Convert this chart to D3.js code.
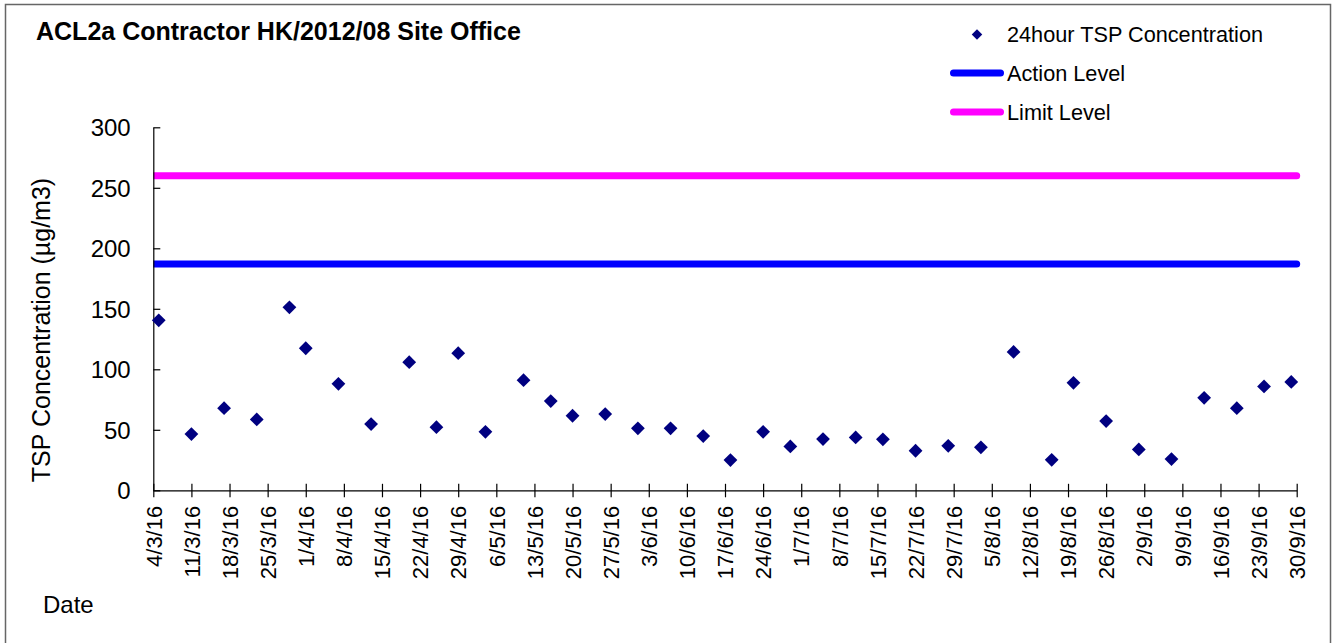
<!DOCTYPE html>
<html>
<head>
<meta charset="utf-8">
<script src="https://cdn.jsdelivr.net/npm/d3@7"></script>
<style>
  body { margin: 0; background: #fff; }
  svg { display: block; font-family: Arial, "Liberation Sans", sans-serif; }
</style>
</head>
<body>
<script>
// 24 hour TSP readings, ACL2a site office
const sampleDates = ["5/3/16", "11/3/16", "17/3/16", "23/3/16", "29/3/16", "1/4/16", "7/4/16", "13/4/16",
  "20/4/16", "25/4/16", "29/4/16", "4/5/16", "11/5/16", "16/5/16", "20/5/16", "26/5/16", "1/6/16",
  "7/6/16", "13/6/16", "18/6/16", "24/6/16", "29/6/16", "5/7/16", "11/7/16", "16/7/16", "22/7/16",
  "28/7/16", "3/8/16", "9/8/16", "16/8/16", "20/8/16", "26/8/16", "1/9/16", "7/9/16", "13/9/16",
  "19/9/16", "24/9/16", "29/9/16"]
const tspValues = [140.5, 46.5, 67.9, 58.6, 151.2, 117.4, 88.0, 54.7,
  105.9, 52.2, 113.3, 48.3, 91.0, 73.7, 61.6, 63.0, 51.2,
  51.2, 44.8, 25.0, 48.3, 36.3, 42.3, 43.7, 42.1, 32.7,
  36.8, 35.5, 114.4, 25.2, 88.8, 57.2, 33.8, 25.8, 76.4,
  67.9, 85.8, 89.6]

const actionLevel = 187
const limitLevel = 260

const xTickLabels = ["4/3/16", "11/3/16", "18/3/16", "25/3/16", "1/4/16", "8/4/16", "15/4/16", "22/4/16",
  "29/4/16", "6/5/16", "13/5/16", "20/5/16", "27/5/16", "3/6/16", "10/6/16", "17/6/16", "24/6/16",
  "1/7/16", "8/7/16", "15/7/16", "22/7/16", "29/7/16", "5/8/16", "12/8/16", "19/8/16", "26/8/16",
  "2/9/16", "9/9/16", "16/9/16", "23/9/16", "30/9/16"]
const yTicks = [0, 50, 100, 150, 200, 250, 300]

const width = 1333
const height = 643
const margin = {top: 127.3, right: 36.3, bottom: 152.7, left: 153.3}

const parse = d3.utcParse("%d/%m/%y")
const data = sampleDates.map((d, i) => ({date: parse(d), value: tspValues[i]}))
const tickDates = xTickLabels.map(parse)

const svg = d3.select("body").append("svg")
    .attr("width", width)
    .attr("height", height)

// outer frame
svg.append("rect")
    .attr("x", 5.5)
    .attr("y", 4.5)
    .attr("width", 1325)
    .attr("height", 660)
    .attr("fill", "none")
    .attr("stroke", "#666")
    .attr("stroke-width", 1.5)

const x = d3.scaleUtc()
    .domain([tickDates[0], tickDates[tickDates.length - 1]])
    .range([margin.left, width - margin.right])

const y = d3.scaleLinear()
    .domain([0, 300])
    .range([height - margin.bottom, margin.top])

svg.append("clipPath").attr("id", "plot")
  .append("rect")
    .attr("x", margin.left)
    .attr("y", 0)
    .attr("width", width - margin.left)
    .attr("height", height)

// action / limit level lines
const levels = [
  {value: limitLevel, color: "#ff00ff"},
  {value: actionLevel, color: "#0000ff"}
]
svg.append("g")
    .attr("clip-path", "url(#plot)")
  .selectAll("line")
  .data(levels)
  .join("line")
    .attr("x1", x(tickDates[0]))
    .attr("x2", x(tickDates[tickDates.length - 1]))
    .attr("y1", d => y(d.value))
    .attr("y2", d => y(d.value))
    .attr("stroke", d => d.color)
    .attr("stroke-width", 7)
    .attr("stroke-linecap", "round")

// y axis
svg.append("g")
    .attr("transform", `translate(${margin.left},0)`)
    .call(d3.axisRight(y).tickValues(yTicks).tickSize(7).tickSizeOuter(0).tickFormat(d3.format("d")))
    .call(g => g.select(".domain").attr("stroke", "#000").attr("stroke-width", 1.2))
    .call(g => g.selectAll(".tick line").attr("stroke", "#000").attr("stroke-width", 1.2))
    .call(g => g.selectAll(".tick text")
        .attr("x", -22.6)
        .attr("dy", "0.35em")
        .attr("text-anchor", "end")
        .attr("font-size", 24)
        .attr("fill", "#000"))

// x axis
svg.append("g")
    .attr("transform", `translate(0,${y(0)})`)
    .call(d3.axisBottom(x).tickValues(tickDates).tickSize(7).tickSizeOuter(0)
        .tickFormat((d, i) => xTickLabels[i]))
    .call(g => g.select(".domain").attr("stroke", "#000").attr("stroke-width", 1.2))
    .call(g => g.selectAll(".tick line").attr("y1", -6.5).attr("stroke", "#000").attr("stroke-width", 1.2))
    .call(g => g.selectAll(".tick text")
        .attr("transform", "rotate(-90)")
        .attr("x", -15.5)
        .attr("y", 0)
        .attr("dy", "0.35em")
        .attr("text-anchor", "end")
        .attr("font-size", 22)
        .attr("fill", "#000"))

// diamonds
const diamond = d3.symbol(d3.symbolSquare, 95)
svg.append("g")
    .attr("fill", "#000080")
  .selectAll("path")
  .data(data)
  .join("path")
    .attr("transform", d => `translate(${x(d.date)},${y(d.value)}) rotate(45)`)
    .attr("d", diamond)

// titles
svg.append("text")
    .attr("x", 36)
    .attr("y", 39.5)
    .attr("font-size", 25)
    .attr("font-weight", "bold")
    .text("ACL2a Contractor HK/2012/08 Site Office")

svg.append("text")
    .attr("transform", `translate(50,330) rotate(-90)`)
    .attr("text-anchor", "middle")
    .attr("font-size", 25)
    .text("TSP Concentration (µg/m3)")

svg.append("text")
    .attr("x", 43)
    .attr("y", 613)
    .attr("font-size", 24)
    .text("Date")

// legend
const legend = svg.append("g").attr("font-size", 21.7)
legend.append("path")
    .attr("transform", "translate(977,34.5) rotate(45)")
    .attr("d", d3.symbol(d3.symbolSquare, 55))
    .attr("fill", "#000080")
legend.append("text").attr("x", 1007).attr("y", 42).text("24hour TSP Concentration")

const legendLines = [
  {label: "Action Level", color: "#0000ff", y: 73},
  {label: "Limit Level", color: "#ff00ff", y: 112}
]
legendLines.forEach(l => {
  legend.append("line")
      .attr("x1", 953.5).attr("x2", 1000.5)
      .attr("y1", l.y).attr("y2", l.y)
      .attr("stroke", l.color)
      .attr("stroke-width", 7)
      .attr("stroke-linecap", "round")
  legend.append("text").attr("x", 1007).attr("y", l.y + 8).text(l.label)
})
</script>
</body>
</html>
